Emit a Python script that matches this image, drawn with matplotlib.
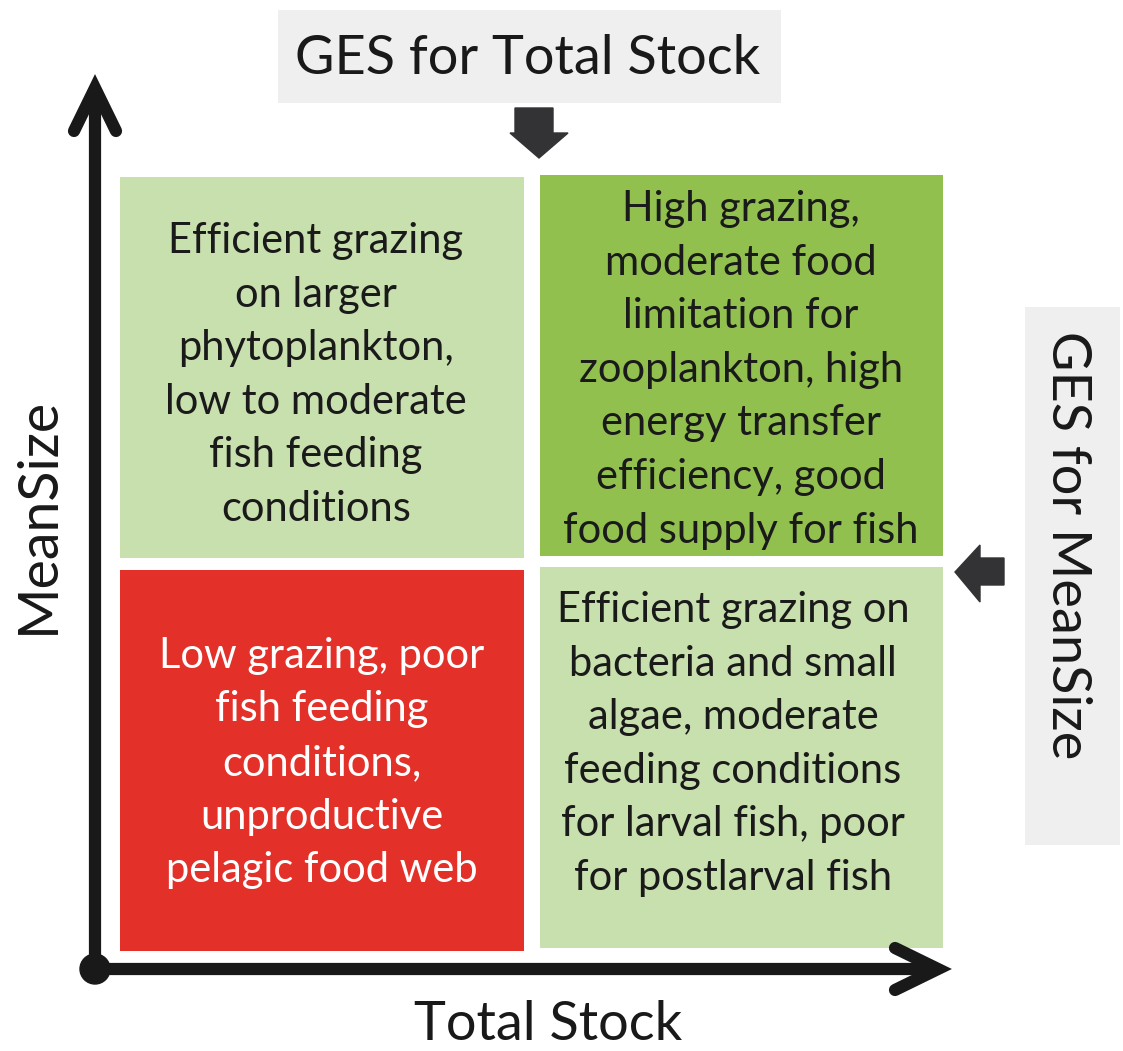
import matplotlib.pyplot as plt
from matplotlib.patches import Rectangle, Polygon, Circle

plt.rcParams['font.family'] = ['Lato', 'DejaVu Sans']

# quadrant boxes: (x0, y0, x1, y1) in pixels, colour, text colour, text
quad_boxes = [(120, 177, 524, 558), (540, 175, 943, 556),
              (120, 570, 524, 951), (540, 567, 943, 948)]
quad_colors = ['#C8DFAE', '#92C04F', '#E3312A', '#C8DFAE']
quad_text_colors = ['#1a1a1a', '#1a1a1a', 'white', '#1a1a1a']
quad_text_centers = [(316, 375), (741, 370), (322, 763), (733, 744)]
quad_texts = [
    "Efficient grazing\non larger\nphytoplankton,\nlow to moderate\nfish feeding\nconditions",
    "High grazing,\nmoderate food\nlimitation for\nzooplankton, high\nenergy transfer\nefficiency, good\nfood supply for fish",
    "Low grazing, poor\nfish feeding\nconditions,\nunproductive\npelagic food web",
    "Efficient grazing on\nbacteria and small\nalgae, moderate\nfeeding conditions\nfor larval fish, poor\nfor postlarval fish",
]
x_label = "Total Stock"
y_label = "MeanSize"
top_label = "GES for Total Stock"
right_label = "GES for MeanSize"

fig = plt.figure(figsize=(11.23, 10.51), dpi=100)
ax = fig.add_axes([0, 0, 1, 1])
ax.set_xlim(0, 1123)
ax.set_ylim(1051, 0)
ax.axis('off')

for (x0, y0, x1, y1), c, tc, (cx, cy), t in zip(quad_boxes, quad_colors, quad_text_colors,
                                               quad_text_centers, quad_texts):
    ax.add_patch(Rectangle((x0, y0), x1 - x0, y1 - y0, facecolor=c, edgecolor='none'))
    ax.text(cx, cy, t, color=tc, fontsize=30, ha='center', va='center',
            multialignment='center', linespacing=1.5)

# axes with arrows
ink = '#191919'
lw = 8.8
ax.plot([95, 95], [969, 90], color=ink, lw=lw, solid_capstyle='butt')
ax.plot([95, 935], [969, 969], color=ink, lw=lw, solid_capstyle='butt')
ax.plot([74, 95, 116], [131, 88, 131], color=ink, lw=lw, solid_capstyle='round',
        solid_joinstyle='miter')
ax.plot([895, 938, 895], [948, 969, 990], color=ink, lw=lw, solid_capstyle='round',
        solid_joinstyle='miter')
ax.add_patch(Circle((95, 969), 15, color=ink))

ax.text(38, 515, y_label, rotation=90, fontsize=40, ha='center', va='center', color=ink)
ax.text(548, 1025, x_label, fontsize=39, ha='center', va='center', color=ink)

# GES boxes and block arrows
ax.add_patch(Rectangle((278, 10), 503, 93, facecolor='#EFEFEF', edgecolor='none'))
ax.text(528, 58, top_label, fontsize=39, ha='center', va='center', color=ink)
ax.add_patch(Rectangle((1025, 307), 95, 538, facecolor='#EFEFEF', edgecolor='none'))
ax.text(1068, 545, right_label, fontsize=39, rotation=-90, ha='center', va='center', color=ink)

block = '#333335'
ax.add_patch(Polygon([(515, 108), (553, 108), (553, 133), (568, 133), (539, 158),
                      (510, 133), (515, 133)], closed=True, color=block))
ax.add_patch(Polygon([(1004, 558), (1004, 585), (980, 585), (980, 602), (955, 572),
                      (980, 545), (980, 558)], closed=True, color=block))

fig.savefig('out.png', dpi=100)
